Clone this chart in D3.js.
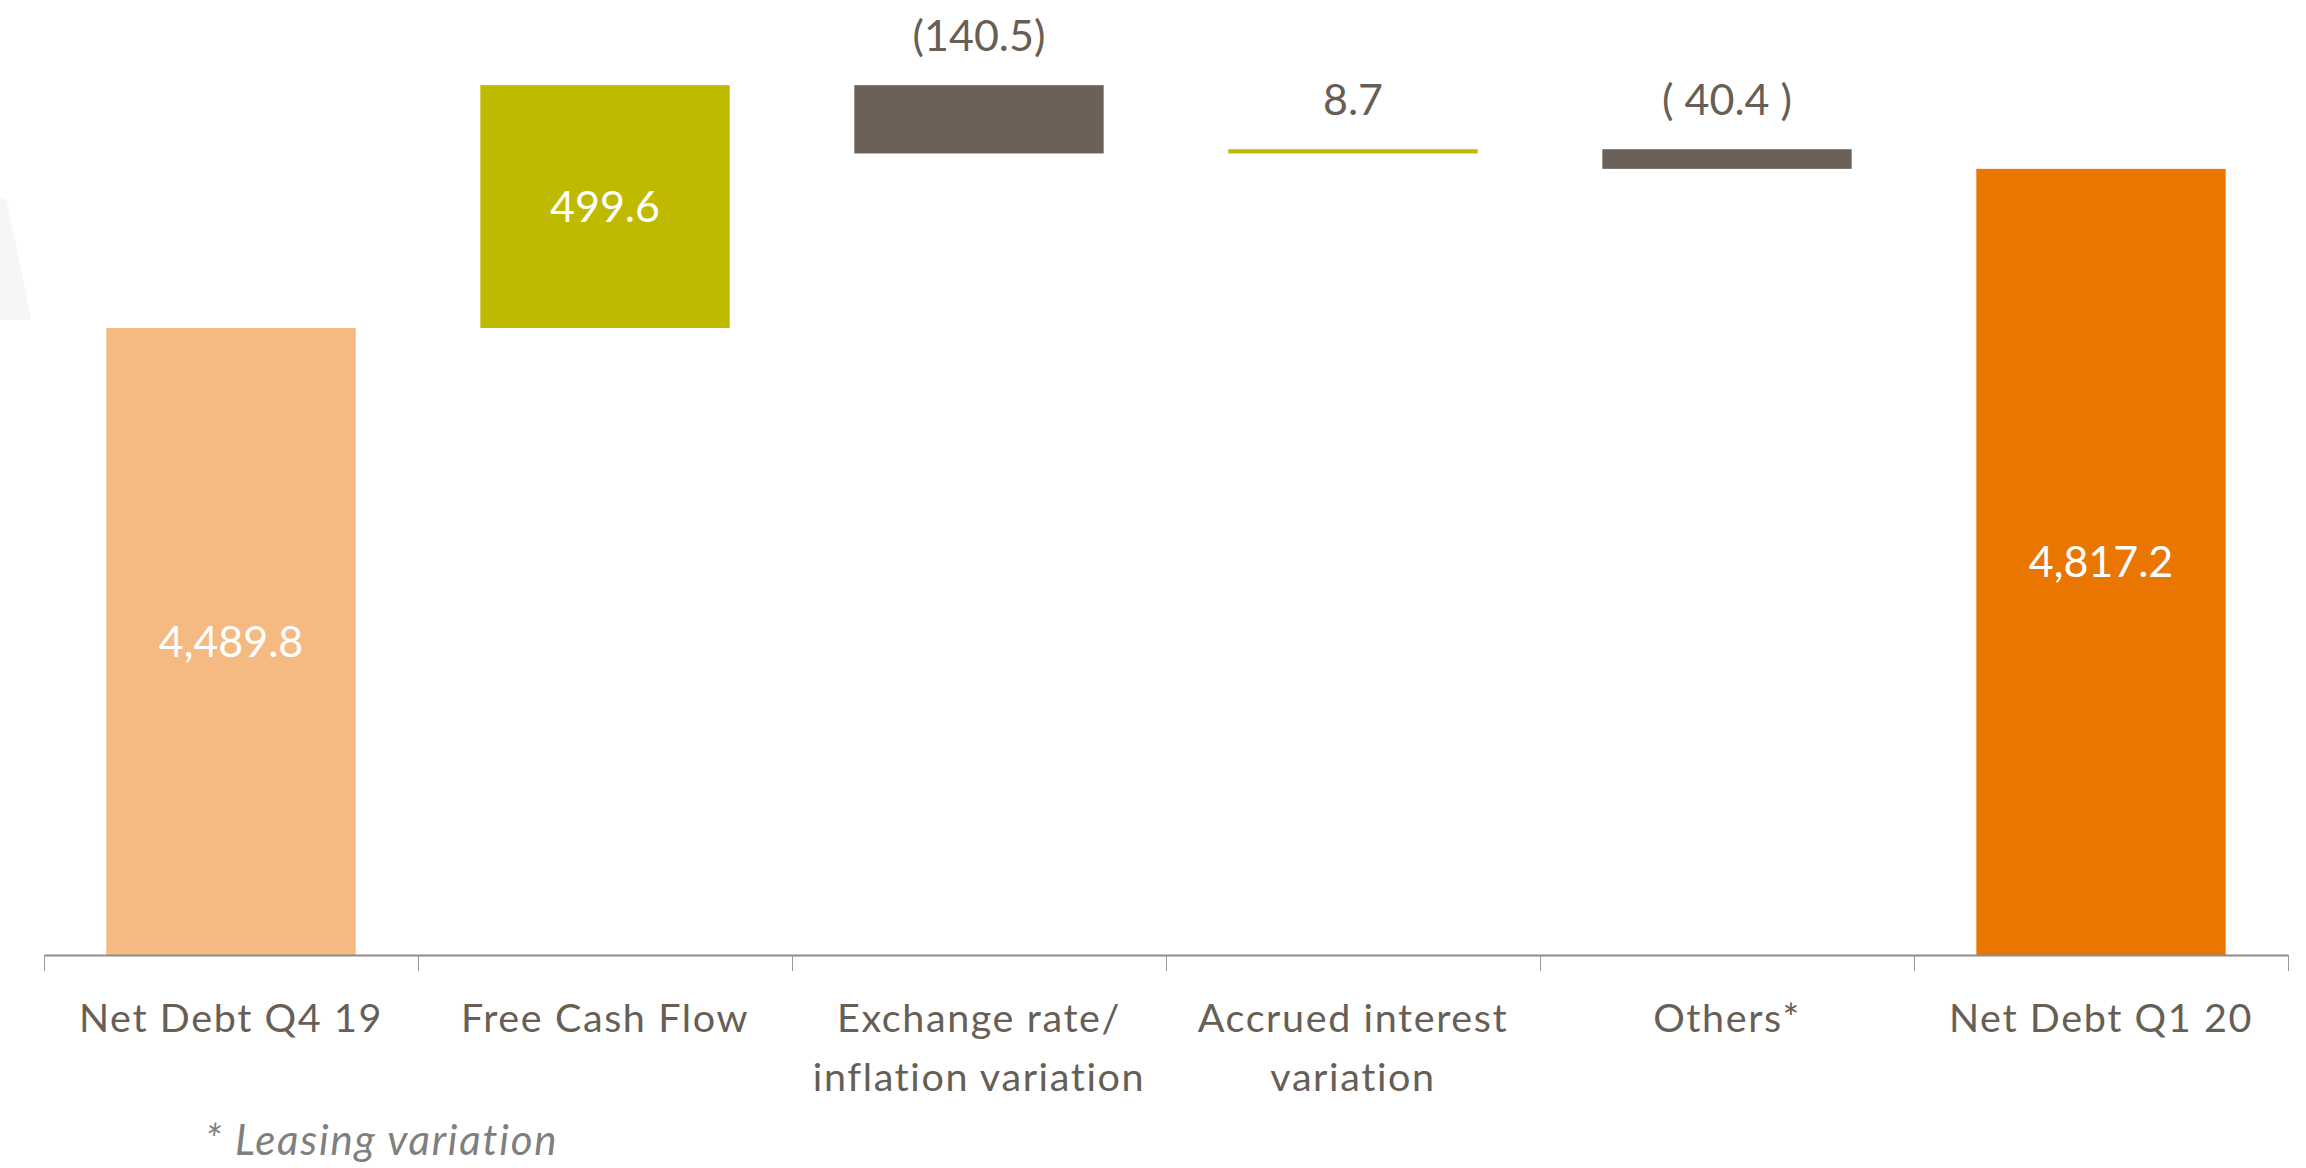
<!DOCTYPE html>
<html>
<head>
<meta charset="utf-8">
<script src="https://cdn.jsdelivr.net/npm/d3@7/dist/d3.min.js"></script>
<style>
    html, body { margin: 0; padding: 0; background: #ffffff; }
    #chartDiv { width: 2306px; height: 1168px; }
    text { font-family: Lato, 'Noto Sans', sans-serif; }
</style>
</head>
<body>
<div id="chartDiv"></div>
<script>
// data
const categories = ['Net Debt Q4 19', 'Free Cash Flow', 'Exchange rate/\ninflation variation', 'Accrued interest\nvariation', 'Others*', 'Net Debt Q1 20'];
const values = [4489.8, 499.6, -140.5, 8.7, -40.4, 4817.2];
const kinds = ['start', 'delta', 'delta', 'delta', 'delta', 'end'];
const valueLabels = ['4,489.8', '499.6', '(140.5)', '8.7', '( 40.4 )', '4,817.2'];
const footnote = '* Leasing variation';
const yDomain = [3200, 5000];

// waterfall steps
let running = 0;
const bars = categories.map((c, i) => {
    let lo, hi, kind;
    if (kinds[i] === 'delta') {
        lo = Math.min(running, running + values[i]);
        hi = Math.max(running, running + values[i]);
        kind = values[i] >= 0 ? 'increase' : 'decrease';
        running += values[i];
    } else {
        lo = yDomain[0];
        hi = values[i];
        kind = kinds[i];
        running = values[i];
    }
    return { cat: c, lo, hi, kind, label: valueLabels[i] };
});

const sizes = { width: 2306, height: 1168, left: 44, right: 2288, base: 955, top: 80 };

const color = d3.scaleOrdinal()
    .domain(['start', 'increase', 'decrease', 'end'])
    .range(['#f4ba81', '#bfba00', '#6b6158', '#e97600']);

const svg = d3.create('svg')
    .attr('width', sizes.width)
    .attr('height', sizes.height);

// faint background shape on the left edge
svg.append('path')
    .attr('d', 'M0,198 L6,198 L30,312 L30,320 L0,320 Z')
    .attr('fill', '#f6f6f6');

const x = d3.scaleBand()
    .domain(categories)
    .range([sizes.left, sizes.right])
    .paddingInner(1 / 3)
    .paddingOuter(1 / 6);

const y = d3.scaleLinear()
    .domain(yDomain)
    .range([sizes.base, sizes.top]);

// bars
svg.selectAll('.bar')
    .data(bars)
    .enter().append('rect')
    .attr('class', 'bar')
    .attr('x', d => x(d.cat))
    .attr('width', x.bandwidth())
    .attr('y', d => y(d.hi))
    .attr('height', d => y(d.lo) - y(d.hi))
    .attr('fill', d => color(d.kind));

// axis with ticks on the category edges
const xEdge = d3.scaleLinear()
    .domain([0, categories.length])
    .range([sizes.left, sizes.right]);

const axis = svg.append('g')
    .attr('transform', `translate(0,${sizes.base})`)
    .call(d3.axisBottom(xEdge)
        .tickValues(d3.range(categories.length + 1))
        .tickSize(16)
        .tickSizeOuter(0)
        .tickFormat(''));
axis.select('.domain').attr('stroke', '#8c8c8c').attr('stroke-width', 2);
axis.selectAll('.tick line').attr('stroke', '#9a9a9a').attr('stroke-width', 1);

// category labels
const catText = svg.selectAll('.cat')
    .data(categories)
    .enter().append('text')
    .attr('class', 'cat')
    .attr('text-anchor', 'middle')
    .attr('font-size', 39.5)
    .attr('letter-spacing', 1.6)
    .attr('fill', '#675e55');
catText.selectAll('tspan')
    .data(d => d.split('\n').map(line => ({ line, cat: d })))
    .enter().append('tspan')
    .attr('x', d => x(d.cat) + x.bandwidth() / 2)
    .attr('y', (d, i) => 1032 + i * 58.5)
    .text(d => d.line);

// value labels: inside tall bars, above short ones
svg.selectAll('.val')
    .data(bars)
    .enter().append('text')
    .attr('class', 'val')
    .attr('text-anchor', 'middle')
    .attr('font-size', 43)
    .attr('x', d => x(d.cat) + x.bandwidth() / 2)
    .attr('y', d => {
        const h = y(d.lo) - y(d.hi);
        return h > 100 ? (y(d.lo) + y(d.hi)) / 2 + 15 : y(d.hi) - 34;
    })
    .attr('fill', d => (y(d.lo) - y(d.hi)) > 100 ? '#ffffff' : '#675e55')
    .text(d => d.label);

// footnote
svg.append('text')
    .attr('x', 205)
    .attr('y', 1155)
    .attr('font-size', 42)
    .attr('font-style', 'italic')
    .attr('letter-spacing', 1.8)
    .attr('fill', '#7f7f7f')
    .text(footnote);

d3.select('#chartDiv').append(() => svg.node());
</script>
</body>
</html>
